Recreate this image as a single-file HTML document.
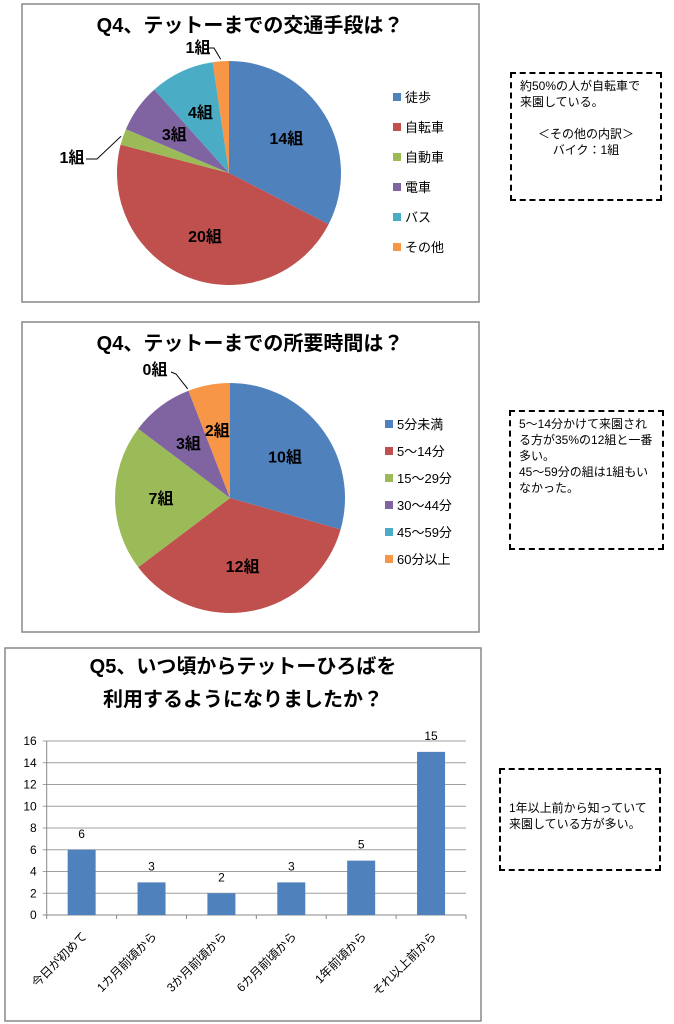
<!DOCTYPE html>
<html><head><meta charset="utf-8">
<style>
body{margin:0;background:#fff;font-family:"Liberation Sans","Noto Sans CJK JP",sans-serif;}
.note{position:absolute;border:2px dashed #000;font-size:12px;line-height:16px;padding:4px 8px;box-sizing:border-box;background:#fff;}
svg{position:absolute;left:0;top:0}
</style></head><body>
<svg id="s" width="674" height="1024" font-family="Liberation Sans, Noto Sans CJK JP, sans-serif"></svg>
<div class="note" style="left:510px;top:72px;width:152px;height:129px;">約50%の人が自転車で来園している。<br><br><div style="text-align:center">＜その他の内訳＞<br>バイク：1組</div></div>
<div class="note" style="left:509px;top:410px;width:155px;height:140px;">5～14分かけて来園される方が35%の12組と一番多い。<br>45～59分の組は1組もいなかった。</div>
<div class="note" style="left:499px;top:768px;width:162px;height:103px;padding-top:30px;">1年以上前から知っていて来園している方が多い。</div>
<script>
const pie1Cats=["徒歩","自転車","自動車","電車","バス","その他"];
const pie1Vals=[14,20,1,3,4,1];
const pie2Cats=["5分未満","5～14分","15～29分","30～44分","45～59分","60分以上"];
const pie2Vals=[10,12,7,3,0,2];
const barCats=["今日が初めて","1カ月前頃から","3か月前頃から","6カ月前頃から","1年前頃から","それ以上前から"];
const barVals=[6,3,2,3,5,15];
const yTicks=[0,2,4,6,8,10,12,14,16];
const colors=["#4F81BD","#C0504D","#9BBB59","#8064A2","#4BACC6","#F79646"];
const S=document.getElementById('s');const NS="http://www.w3.org/2000/svg";
function mk(t,a,txt){const e=document.createElementNS(NS,t);for(const k in a)e.setAttribute(k,a[k]);if(txt!==undefined)e.textContent=txt;S.appendChild(e);return e;}
function box(x,y,w,h,n){const e=mk('rect',{x:x,y:y,width:w,height:h,fill:'#fff',stroke:'#888','stroke-width':1.5});

}
function title(x,y,t,n){const e=mk('text',{x:x,y:y,'font-size':20,'font-weight':'bold','text-anchor':'middle'},t);

}
function pie(cx,cy,r,vals,cats,lx,ly,lstep,outs,pfx){
 const tot=vals.reduce((a,b)=>a+b,0);let a0=0;
 vals.forEach((v,i)=>{
  const a1=a0+v/tot*2*Math.PI;
  if(v>0){const x0=cx+r*Math.sin(a0),y0=cy-r*Math.cos(a0),x1=cx+r*Math.sin(a1),y1=cy-r*Math.cos(a1);
   const p=mk('path',{d:`M${cx},${cy}L${x0},${y0}A${r},${r} 0 ${a1-a0>Math.PI?1:0} 1 ${x1},${y1}Z`,fill:colors[i]});
   
   }
  const am=(a0+a1)/2;
  let tx,ty;
  if(outs[i]){const o=outs[i];tx=o[0];ty=o[1];
   const ex=cx+(r+2)*Math.sin(am),ey=cy-(r+2)*Math.cos(am);
   const ln=mk('polyline',{points:`${o[2]},${o[3]} ${o[4]},${o[5]} ${ex},${ey}`,fill:'none',stroke:'#000','stroke-width':1});
   
   }
  else{tx=cx+0.6*r*Math.sin(am);ty=cy-0.6*r*Math.cos(am)+6;}
  const t=mk('text',{x:tx,y:ty,'font-size':16,'font-weight':'bold','text-anchor':'middle'},v+'組');
  
  
  a0=a1;});
 cats.forEach((c,i)=>{const rr=mk('rect',{x:lx,y:ly+i*lstep-4,width:8,height:8,fill:colors[i]});
  
  
  const t=mk('text',{x:lx+12,y:ly+i*lstep+5,'font-size':13},c);
  
  });
}
box(22,4,457,298,'transport-chart');
title(250,32,'Q4、テットーまでの交通手段は？','transport-title');
pie(229,173,112,pie1Vals,pie1Cats,393,97,30,{2:[72,163,86,159,97,159],5:[198,53,208,48,214,48]},'transport');
box(22,322,457,310,'time-chart');
title(250,350,'Q4、テットーまでの所要時間は？','time-title');
pie(230,498,115,pie2Vals,pie2Cats,385,424,27,{4:[155,375,171,372,176,374]},'time');
box(5,648,476,373,'since-chart');
title(243,673,'Q5、いつ頃からテットーひろばを','since-title-1');
title(243,706,'利用するようになりましたか？','since-title-2');
const X0=46.7,X1=466,Y0=915,Y16=741;
const ys=v=>Y0-(v/16)*(Y0-Y16);const cw=(X1-X0)/barCats.length;
yTicks.forEach(v=>{const l=mk('line',{x1:X0-4,x2:X1,y1:ys(v),y2:ys(v),stroke:v?'#a0a0a0':'#888','stroke-width':1});
 
 
 const t=mk('text',{x:X0-10,y:ys(v)+4,'font-size':12,'text-anchor':'end'},v);
 
 });
mk('line',{x1:X0,x2:X0,y1:Y16,y2:Y0+4,stroke:'#888'});
barCats.forEach((c,i)=>{const cx=X0+cw*(i+0.5);
 const b=mk('rect',{x:cx-14,y:ys(barVals[i]),width:28,height:Y0-ys(barVals[i]),fill:'#4F81BD'});
 
 
 const v=mk('text',{x:cx,y:ys(barVals[i])-12,'font-size':12,'text-anchor':'middle'},barVals[i]);
 
 
 const tk=mk('line',{x1:X0+cw*(i+1),x2:X0+cw*(i+1),y1:Y0,y2:Y0+4,stroke:'#888'});
 const t=mk('text',{x:cx+6,y:Y0+22,'font-size':12,'text-anchor':'end',transform:`rotate(-45 ${cx+6} ${Y0+22})`},c);
 
 });
</script>
</body></html>
